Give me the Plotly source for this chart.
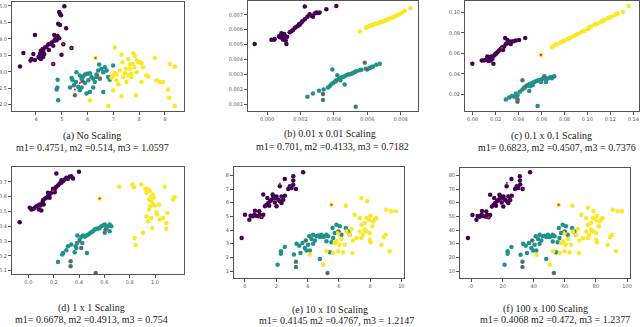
import plotly.graph_objects as go
from plotly.subplots import make_subplots

# ---- (a) No Scaling ----
a_purple_x = [5.10, 4.90, 4.93, 4.97, 4.86, 4.93, 5.17, 3.96, 4.71, 4.84, 4.76, 4.90, 4.80, 4.71, 4.61, 4.54, 4.48, 4.41, 4.35, 4.26, 4.19,
              4.28, 4.15, 4.22, 4.28, 3.51, 3.90, 3.83, 3.79, 3.96, 4.13, 4.19, 4.32, 4.50, 4.67, 5.06, 5.38, 4.99, 4.67, 3.38, 4.10, 4.25]
a_purple_y = [4.99, 4.82, 4.76, 4.72, 4.46, 4.42, 4.32, 4.12, 4.12, 4.09, 4.02, 4.02, 3.96, 3.94, 3.89, 3.84, 3.84, 3.76, 3.74, 3.69, 3.64,
              3.64, 3.54, 3.49, 3.46, 3.57, 3.54, 3.39, 3.34, 3.36, 3.42, 3.39, 3.54, 3.66, 3.79, 3.84, 3.72, 3.52, 3.24, 3.16, 3.45, 3.44]
a_teal_x = [4.84, 4.83, 4.80, 4.86, 5.38, 5.57, 5.70, 5.77, 5.83, 5.90, 5.99, 6.09, 6.15, 6.22, 6.35, 6.41, 6.45, 6.54, 6.61, 6.67, 6.74, 6.80,
            6.99, 7.06, 6.86, 6.61, 6.28, 6.22, 6.09, 5.96, 5.70, 5.64, 5.47, 5.32, 5.51, 5.77, 5.90, 6.03, 5.55, 5.81, 6.48, 6.35, 5.42]
a_teal_y = [2.76, 2.52, 2.46, 2.14, 2.81, 2.99, 2.89, 2.79, 2.86, 2.92, 2.94, 2.96, 2.84, 2.79, 2.92, 3.04, 3.22, 3.09, 2.99, 3.14, 3.04, 2.84,
            3.19, 2.94, 2.76, 2.39, 2.69, 2.52, 2.39, 2.34, 2.44, 2.54, 2.59, 2.52, 2.29, 2.52, 2.66, 2.74, 2.69, 2.71, 2.79, 2.84, 2.74]
a_yellow_x = [6.31, 7.06, 7.32, 7.35, 7.48, 7.45, 7.57, 7.64, 7.70, 7.74, 7.83, 7.90, 7.77, 7.64, 7.81, 7.96, 8.03, 8.09, 7.06, 6.99, 7.12, 7.19,
              6.99, 7.38, 7.51, 7.57, 7.70, 7.25, 7.87, 8.09, 8.28, 8.35, 8.61, 8.67, 8.80, 8.93, 9.12, 9.19, 9.38, 9.16, 9.38, 6.09,
              6.80, 7.32, 7.90, 8.15, 6.93, 7.12]
a_yellow_y = [3.42, 3.74, 3.52, 3.29, 3.09, 2.96, 3.39, 3.09, 2.94, 3.24, 3.49, 3.36, 3.56, 3.22, 3.14, 3.29, 3.29, 3.26, 2.96, 2.89, 2.74, 2.62,
              2.44, 2.84, 2.69, 2.89, 2.84, 3.04, 2.29, 2.69, 2.89, 2.86, 3.42, 2.74, 2.69, 2.69, 2.46, 3.24, 3.16, 2.21, 1.96, 2.14,
              1.96, 2.26, 2.99, 3.14, 2.82, 2.92]
a_red_x = [5.06, 5.38, 4.67, 5.70, 5.81, 5.51, 5.51, 6.41, 6.48, 6.31]
a_red_y = [3.84, 3.72, 3.24, 2.66, 2.72, 2.46, 2.31, 2.89, 2.82, 3.42]

# ---- (b) 0.01 x 0.01 Scaling ----
b_purple_x = [-0.00074, 0.00026, 0.00042, 0.00046, 0.00076, 0.00086, 0.00096, 0.00102, 0.00090, 0.00106, 0.00096, 0.00112, 0.00116,
              0.00136, 0.00156, 0.00166, 0.00176, 0.00186, 0.00196, 0.00206, 0.00212, 0.00226, 0.00242, 0.00255, 0.00265, 0.00275,
              0.00295, 0.00305, 0.00315, 0.00355, 0.00415, 0.00226, 0.00120, 0.00146, 0.00192, 0.00285, 0.00086, 0.00072, 0.00106,
              0.00095, 0.00100, 0.00085]
b_purple_y = [0.00504, 0.00533, 0.00533, 0.00538, 0.00549, 0.00560, 0.00564, 0.00571, 0.00544, 0.00544, 0.00533, 0.00527, 0.00504,
              0.00582, 0.00598, 0.00611, 0.00620, 0.00627, 0.00633, 0.00649, 0.00656, 0.00671, 0.00687, 0.00704, 0.00693, 0.00687,
              0.00716, 0.00713, 0.00716, 0.00738, 0.00760, 0.00756, 0.00553, 0.00589, 0.00638, 0.00709, 0.00576, 0.00556, 0.00560,
              0.00550, 0.00540, 0.00555]
b_teal_x = [0.00242, 0.00275, 0.00311, 0.00339, 0.00335, 0.00335, 0.00391, 0.00375, 0.00385, 0.00395, 0.00405, 0.00415, 0.00421,
            0.00431, 0.00445, 0.00455, 0.00465, 0.00465, 0.00475, 0.00485, 0.00495, 0.00505, 0.00515, 0.00525, 0.00535, 0.00555,
            0.00585, 0.00591, 0.00599, 0.00615, 0.00625, 0.00635, 0.00655, 0.00675, 0.00531, 0.00365, 0.00411, 0.00439, 0.00565, 0.00605]
b_teal_y = [0.00149, 0.00171, 0.00189, 0.00198, 0.00167, 0.00127, 0.00333, 0.00220, 0.00233, 0.00242, 0.00249, 0.00260, 0.00293,
            0.00271, 0.00278, 0.00282, 0.00287, 0.00231, 0.00293, 0.00298, 0.00300, 0.00304, 0.00309, 0.00316, 0.00320, 0.00327,
            0.00378, 0.00338, 0.00333, 0.00342, 0.00349, 0.00353, 0.00364, 0.00371, 0.00082, 0.00211, 0.00253, 0.00260, 0.00331, 0.00338]
b_yellow_x = [0.00555, 0.00591, 0.00605, 0.00615, 0.00631, 0.00645, 0.00659, 0.00675, 0.00691, 0.00705, 0.00719, 0.00735, 0.00751,
              0.00764, 0.00778, 0.00794, 0.00810, 0.00824, 0.00858, 0.00599, 0.00625, 0.00651, 0.00681, 0.00711, 0.00745, 0.00785]
b_yellow_y = [0.00587, 0.00611, 0.00620, 0.00627, 0.00633, 0.00638, 0.00642, 0.00647, 0.00653, 0.00660, 0.00667, 0.00676, 0.00682,
              0.00689, 0.00696, 0.00704, 0.00716, 0.00727, 0.00744, 0.00616, 0.00629, 0.00640, 0.00651, 0.00664, 0.00678, 0.00700]
b_red_x = [0.00335, 0.00335, 0.00585, 0.00415, 0.00531, 0.00599]
b_red_y = [0.00167, 0.00127, 0.00378, 0.00260, 0.00082, 0.00333]

# ---- (c) 0.1 x 0.1 Scaling ----
c_purple_x = [-0.0003, 0.0079, 0.0099, 0.0114, 0.0128, 0.0143, 0.0157, 0.0137, 0.0157, 0.0172, 0.0181, 0.0187, 0.0201, 0.0216, 0.0230,
              0.0245, 0.0259, 0.0274, 0.0283, 0.0289, 0.0303, 0.0318, 0.0332, 0.0353, 0.0376, 0.0405, 0.0458, 0.0303, 0.0265, 0.0207,
              0.0166, 0.0128, 0.0195, 0.0254, 0.0332]
c_purple_y = [0.0498, 0.0530, 0.0530, 0.0537, 0.0547, 0.0556, 0.0563, 0.0524, 0.0530, 0.0547, 0.0498, 0.0579, 0.0595, 0.0611, 0.0628,
              0.0644, 0.0660, 0.0666, 0.0751, 0.0692, 0.0699, 0.0708, 0.0715, 0.0718, 0.0725, 0.0731, 0.0751, 0.0731, 0.0634, 0.0602,
              0.0569, 0.0569, 0.0589, 0.0653, 0.0692]
c_teal_x = [0.0289, 0.0318, 0.0341, 0.0362, 0.0376, 0.0391, 0.0434, 0.0411, 0.0434, 0.0449, 0.0464, 0.0478, 0.0493, 0.0507, 0.0522,
            0.0536, 0.0551, 0.0566, 0.0580, 0.0595, 0.0609, 0.0624, 0.0638, 0.0653, 0.0668, 0.0682, 0.0697, 0.0711, 0.0624, 0.0391,
            0.0391, 0.0493, 0.0566, 0.0455, 0.0499, 0.0595, 0.0638, 0.0691, 0.0376, 0.0522]
c_teal_y = [0.0148, 0.0168, 0.0181, 0.0174, 0.0184, 0.0190, 0.0336, 0.0223, 0.0245, 0.0265, 0.0278, 0.0287, 0.0297, 0.0304, 0.0310,
            0.0320, 0.0326, 0.0333, 0.0336, 0.0342, 0.0352, 0.0368, 0.0342, 0.0352, 0.0362, 0.0368, 0.0368, 0.0375, 0.0375, 0.0151,
            0.0125, 0.0232, 0.0083, 0.0262, 0.0278, 0.0320, 0.0320, 0.0355, 0.0207, 0.0287]
c_yellow_x = [0.0595, 0.0691, 0.0711, 0.0741, 0.0770, 0.0799, 0.0828, 0.0857, 0.0886, 0.0915, 0.0945, 0.0974, 0.1003, 0.1032, 0.1061,
              0.1090, 0.1120, 0.1149, 0.1178, 0.1207, 0.1236, 0.1265, 0.1309, 0.1359, 0.0726, 0.0784, 0.0843, 0.0901, 0.0959, 0.1017,
              0.1076, 0.1134, 0.1192, 0.1251]
c_yellow_y = [0.0585, 0.0660, 0.0676, 0.0692, 0.0708, 0.0725, 0.0741, 0.0757, 0.0773, 0.0789, 0.0806, 0.0822, 0.0838, 0.0861, 0.0880,
              0.0893, 0.0909, 0.0926, 0.0945, 0.0958, 0.0974, 0.0990, 0.1006, 0.1065, 0.0686, 0.0718, 0.0747, 0.0783, 0.0815, 0.0854,
              0.0887, 0.0919, 0.0951, 0.0984]
c_red_x = [0.0595, 0.0391, 0.0391, 0.0464, 0.0624, 0.0434, 0.0254]
c_red_y = [0.0585, 0.0151, 0.0125, 0.0278, 0.0368, 0.0336, 0.0653]

# ---- (d) 1 x 1 Scaling ----
d_purple_x = [-0.068, 0.011, 0.024, 0.037, 0.050, 0.063, 0.076, 0.089, 0.103, 0.095, 0.111, 0.116, 0.129, 0.142, 0.155, 0.168, 0.182,
              0.195, 0.208, 0.221, 0.234, 0.247, 0.261, 0.274, 0.287, 0.300, 0.313, 0.326, 0.339, 0.353, 0.400, 0.221, 0.168, 0.121,
              0.084, 0.208, 0.261, 0.195, 0.155]
d_purple_y = [0.427, 0.524, 0.513, 0.517, 0.524, 0.535, 0.540, 0.547, 0.506, 0.540, 0.558, 0.576, 0.585, 0.592, 0.603, 0.614, 0.626,
              0.637, 0.648, 0.666, 0.675, 0.689, 0.693, 0.705, 0.716, 0.727, 0.720, 0.734, 0.738, 0.723, 0.768, 0.756, 0.592, 0.547,
              0.513, 0.630, 0.711, 0.653, 0.626]
d_teal_x = [0.234, 0.268, 0.274, 0.300, 0.313, 0.339, 0.374, 0.384, 0.387, 0.405, 0.418, 0.432, 0.445, 0.458, 0.471, 0.484, 0.497,
            0.511, 0.524, 0.537, 0.550, 0.563, 0.576, 0.589, 0.603, 0.611, 0.616, 0.629, 0.642, 0.655, 0.366, 0.379, 0.463, 0.334,
            0.334, 0.532, 0.418, 0.426, 0.603, 0.642]
d_teal_y = [0.158, 0.208, 0.219, 0.237, 0.264, 0.276, 0.264, 0.287, 0.337, 0.309, 0.328, 0.337, 0.328, 0.337, 0.343, 0.350, 0.359,
            0.366, 0.377, 0.382, 0.382, 0.388, 0.400, 0.404, 0.411, 0.377, 0.388, 0.400, 0.411, 0.400, 0.224, 0.253, 0.219, 0.129,
            0.163, 0.084, 0.253, 0.287, 0.355, 0.366]
d_yellow_x = [0.563, 0.716, 0.821, 0.834, 0.892, 0.924, 0.932, 0.945, 0.958, 0.971, 0.984, 0.953, 0.971, 0.984, 0.997, 0.953, 0.932,
              0.945, 0.971, 0.979, 1.016, 1.032, 1.037, 1.063, 1.076, 1.089, 1.089, 1.097, 1.155, 1.142, 0.905, 0.839, 0.847, 1.011,
              0.989, 0.963]
d_yellow_y = [0.587, 0.666, 0.682, 0.664, 0.682, 0.653, 0.626, 0.648, 0.637, 0.603, 0.614, 0.580, 0.569, 0.547, 0.540, 0.513, 0.467,
              0.434, 0.456, 0.388, 0.479, 0.547, 0.445, 0.456, 0.666, 0.422, 0.382, 0.490, 0.596, 0.580, 0.355, 0.321, 0.273, 0.495,
              0.592, 0.535]
d_red_x = [0.563, 0.195, 0.418, 0.405, 0.334, 0.334, 0.532, 0.603]
d_red_y = [0.587, 0.637, 0.253, 0.295, 0.163, 0.129, 0.084, 0.377]

# ---- (e) 10 x 10 Scaling ----
e_purple_x = [-0.21, 0.00, 0.28, 0.36, 0.49, 0.60, 0.70, 0.85, 0.96, 1.06, 0.91, 1.17, 0.64, 1.28, 1.38, 1.49, 1.60, 1.70, 1.81, 1.91,
              2.02, 2.13, 2.23, 2.34, 2.45, 2.55, 2.55, 2.23, 2.77, 2.87, 2.98, 3.09, 3.09, 3.09, 3.26, 3.72, 1.17, 1.55, 1.91, 2.34,
              2.02, 1.77, 1.43]
e_purple_y = [3.41, 5.12, 4.76, 5.05, 5.00, 5.12, 5.05, 5.00, 5.12, 4.95, 5.37, 5.12, 5.41, 5.73, 5.85, 5.98, 6.10, 6.22, 6.46, 6.34,
              6.46, 6.22, 6.10, 5.98, 6.22, 6.51, 7.73, 7.20, 7.00, 7.20, 7.07, 7.32, 7.63, 7.93, 7.00, 8.22, 6.59, 5.78, 6.02, 6.46,
              5.73, 6.59, 6.34]
e_teal_x = [2.09, 2.30, 2.30, 2.55, 3.13, 3.26, 3.26, 3.30, 3.47, 3.55, 3.68, 3.83, 3.89, 3.94, 4.04, 4.11, 4.15, 4.26, 4.36, 4.47,
            4.57, 4.68, 4.79, 4.79, 4.89, 5.00, 5.11, 5.21, 5.28, 5.32, 5.43, 5.53, 5.60, 5.64, 5.74, 5.85, 5.96, 6.06, 6.17, 6.45,
            6.60, 6.70, 5.21, 4.36]
e_teal_y = [1.46, 2.44, 2.27, 2.76, 2.20, 1.68, 1.29, 3.00, 2.85, 2.32, 3.05, 2.68, 3.24, 2.51, 2.93, 3.54, 2.51, 3.34, 3.66, 3.24,
            3.54, 3.59, 3.49, 1.88, 3.66, 3.49, 3.54, 3.66, 0.85, 3.54, 2.37, 3.10, 4.15, 3.41, 3.78, 4.39, 3.90, 4.27, 3.66, 4.15,
            3.90, 3.66, 3.17, 3.00]
e_yellow_x = [5.53, 6.45, 7.45, 7.81, 7.02, 7.34, 7.45, 7.66, 7.77, 7.94, 8.02, 8.15, 8.19, 8.30, 8.40, 7.66, 7.77, 7.55, 7.34, 7.13,
              6.81, 6.70, 6.49, 5.96, 5.85, 6.02, 6.17, 5.74, 5.96, 5.64, 6.28, 6.87, 5.21, 4.15, 5.00, 7.98, 8.02, 9.04, 9.36, 9.64,
              9.00, 8.87, 8.72, 9.26, 6.38, 6.91, 7.45, 7.98]
e_yellow_y = [5.85, 5.78, 6.34, 6.10, 5.12, 4.88, 4.39, 4.51, 4.88, 4.76, 5.05, 4.27, 4.63, 4.76, 4.88, 4.02, 3.90, 3.66, 3.90, 3.41,
              4.07, 3.66, 3.90, 3.78, 3.17, 2.93, 3.34, 3.05, 2.44, 2.32, 2.37, 2.32, 2.44, 2.20, 1.46, 3.29, 3.10, 5.49, 5.37, 5.37,
              3.66, 3.49, 2.93, 2.44, 2.93, 3.24, 3.41, 3.78]
e_red_x = [5.53, 1.06, 2.23, 3.26, 3.26, 5.28, 3.89, 6.06]
e_red_y = [5.85, 4.95, 7.40, 1.68, 1.29, 0.85, 3.24, 3.90]

# ---- (f) 100 x 100 Scaling ----
f_purple_x = [-2.4, 0.5, 3.1, 3.8, 5.2, 6.3, 7.2, 8.8, 9.9, 10.8, 9.4, 11.9, 6.7, 13.0, 14.1, 15.1, 16.3, 17.2, 18.4, 19.3, 20.5, 21.5,
              22.6, 23.6, 24.8, 25.8, 25.6, 22.5, 27.9, 29.0, 30.0, 31.2, 31.1, 31.0, 32.8, 37.6, 11.9, 15.7, 19.3, 23.6, 20.4, 17.9, 14.5]
f_purple_y = [34.1, 51.0, 47.5, 50.3, 49.8, 51.1, 50.4, 49.9, 51.1, 49.3, 53.6, 51.0, 54.0, 57.2, 58.4, 59.7, 61.0, 62.1, 64.5, 63.3,
              64.6, 62.1, 61.0, 59.8, 62.0, 65.1, 77.4, 72.0, 70.0, 72.0, 70.8, 73.3, 76.3, 79.4, 70.1, 82.3, 65.9, 57.8, 60.2, 64.6,
              57.3, 65.9, 63.4]
f_teal_x = [21.2, 23.2, 23.2, 25.6, 31.5, 32.7, 32.7, 33.1, 34.8, 35.6, 36.9, 38.4, 39.0, 39.5, 40.5, 41.2, 41.6, 42.7, 43.7, 44.8,
            45.8, 46.9, 48.0, 48.0, 49.0, 50.1, 51.2, 52.2, 52.9, 53.3, 54.4, 55.4, 56.1, 56.5, 57.5, 58.6, 59.7, 60.7, 61.8, 64.6,
            66.1, 67.1, 52.2, 43.7]
f_teal_y = [14.6, 24.4, 22.7, 27.6, 22.0, 16.8, 12.9, 30.0, 28.5, 23.2, 30.5, 26.8, 32.4, 25.1, 29.3, 35.4, 25.1, 33.4, 36.6, 32.4,
            35.4, 35.9, 34.9, 18.8, 36.6, 34.9, 35.4, 36.6, 8.5, 35.4, 23.7, 31.0, 41.5, 34.1, 37.8, 43.9, 39.0, 42.7, 36.6, 41.5,
            39.0, 36.6, 31.7, 30.0]
f_yellow_x = [56.0, 64.8, 74.8, 78.4, 70.5, 73.7, 74.8, 76.9, 78.0, 79.7, 80.5, 81.8, 82.2, 83.3, 84.3, 76.9, 78.0, 75.8, 73.7, 71.6,
              68.4, 67.3, 65.2, 59.9, 58.8, 60.5, 62.0, 57.7, 59.9, 56.7, 63.1, 69.0, 52.4, 41.8, 50.3, 80.1, 80.5, 90.7, 93.9, 96.7,
              90.3, 89.0, 87.5, 92.9, 64.1, 69.4, 74.8, 80.1]
f_yellow_y = [58.5, 57.8, 56.3, 54.0, 51.2, 48.8, 43.9, 45.1, 48.8, 47.6, 50.5, 42.7, 46.3, 47.6, 48.8, 40.2, 39.0, 36.6, 39.0, 34.1,
              40.7, 36.6, 39.0, 37.8, 31.7, 29.3, 33.4, 30.5, 24.4, 23.2, 23.7, 23.2, 24.4, 22.0, 14.6, 32.9, 31.0, 54.9, 53.7, 53.7,
              36.6, 34.9, 29.3, 24.4, 29.3, 32.4, 34.1, 37.8]
f_red_x = [56.0, 10.8, 22.6, 32.7, 32.7, 52.9, 39.0, 60.7]
f_red_y = [58.5, 49.3, 74.5, 16.8, 12.9, 8.5, 32.4, 39.0]

captions = ["(a) No Scaling", "(b) 0.01 x 0.01 Scaling", "(c) 0.1 x 0.1 Scaling",
            "(d) 1 x 1 Scaling", "(e) 10 x 10 Scaling", "(f) 100 x 100 Scaling"]
metrics = ["m1= 0.4751, m2 =0.514, m3 = 1.0597", "m1= 0.701, m2 =0.4133, m3 = 0.7182",
           "m1= 0.6823, m2 =0.4507, m3 = 0.7376", "m1= 0.6678, m2 =0.4913, m3 = 0.754",
           "m1= 0.4145 m2 =0.4767, m3 = 1.2147", "m1= 0.4068 m2 =0.472, m3 = 1.2377"]

PURPLE, TEAL, YELLOW, RED = "#440154", "#21918c", "#fde725", "#e3261b"
W, H = 640, 327

panels = [
    (a_purple_x, a_purple_y, a_teal_x, a_teal_y, a_yellow_x, a_yellow_y, a_red_x, a_red_y),
    (b_purple_x, b_purple_y, b_teal_x, b_teal_y, b_yellow_x, b_yellow_y, b_red_x, b_red_y),
    (c_purple_x, c_purple_y, c_teal_x, c_teal_y, c_yellow_x, c_yellow_y, c_red_x, c_red_y),
    (d_purple_x, d_purple_y, d_teal_x, d_teal_y, d_yellow_x, d_yellow_y, d_red_x, d_red_y),
    (e_purple_x, e_purple_y, e_teal_x, e_teal_y, e_yellow_x, e_yellow_y, e_red_x, e_red_y),
    (f_purple_x, f_purple_y, f_teal_x, f_teal_y, f_yellow_x, f_yellow_y, f_red_x, f_red_y),
]

# pixel boxes of each plot frame (left, right, top, bottom)
boxes = [(12, 184, 2, 111), (248, 418, 1, 111), (465, 639, 1, 111),
         (12, 184, 167, 274), (234, 404, 167, 278), (460, 630, 168, 278)]
xranges = [[3.07, 9.74], [-0.00114, 0.00904], [-0.0067, 0.145], [-0.129, 1.229], [-0.70, 10.17], [-7.5, 101.9]]
yranges = [[1.81, 5.12], [0.00053, 0.00793], [0.0035, 0.1113], [0.077, 0.80], [0.49, 8.61], [4.9, 85.4]]
xticks = [[4, 5, 6, 7, 8, 9], [0, 0.002, 0.004, 0.006, 0.008], [0, 0.02, 0.04, 0.06, 0.08, 0.10, 0.12, 0.14],
          [0, 0.2, 0.4, 0.6, 0.8, 1.0], [0, 2, 4, 6, 8, 10], [0, 20, 40, 60, 80, 100]]
yticks = [[2.0, 2.5, 3.0, 3.5, 4.0, 4.5, 5.0], [0.001, 0.002, 0.003, 0.004, 0.005, 0.006, 0.007],
          [0.02, 0.04, 0.06, 0.08, 0.10], [0.1, 0.2, 0.3, 0.4, 0.5, 0.6, 0.7], [1, 2, 3, 4, 5, 6, 7, 8],
          [10, 20, 30, 40, 50, 60, 70, 80]]
xfmt = ["d", ".3f", ".2f", ".1f", "d", "d"]
yfmt = [".1f", ".3f", ".2f", ".1f", "d", "d"]
cap_pos = [(92, 136, 92, 147), (330, 134, 332, 146), (551, 136, 557, 147),
           (91, 308, 91, 319), (330, 310, 336, 320), (545, 309, 555, 319)]

fig = make_subplots(rows=2, cols=3)

for i, (px, py, tx, ty, yx, yy, rx, ry) in enumerate(panels):
    r, c = i // 3 + 1, i % 3 + 1
    for xs, ys, col in ((px, py, PURPLE), (tx, ty, TEAL), (yx, yy, YELLOW)):
        fig.add_trace(go.Scatter(x=xs, y=ys, mode="markers", showlegend=False,
                                 marker=dict(color=col, size=4.5, line=dict(width=0))), row=r, col=c)
    fig.add_trace(go.Scatter(x=rx, y=ry, mode="markers", showlegend=False,
                             marker=dict(color=RED, size=2.2, line=dict(width=0))), row=r, col=c)

    l, rt, t, b = boxes[i]
    axis_style = dict(showgrid=False, zeroline=False, showline=True, mirror=True, linecolor="#555", linewidth=1,
                      ticks="outside", ticklen=3, tickwidth=1, tickcolor="#555", automargin=False,
                      tickfont=dict(family="DejaVu Sans", size=5, color="#555"))
    fig.update_xaxes(domain=[l / W, rt / W], range=xranges[i], tickvals=xticks[i], tickformat=xfmt[i],
                     row=r, col=c, **axis_style)
    fig.update_yaxes(domain=[1 - b / H, 1 - t / H], range=yranges[i], tickvals=yticks[i], tickformat=yfmt[i],
                     row=r, col=c, **axis_style)

    cx1, cy1, cx2, cy2 = cap_pos[i]
    fig.add_annotation(x=cx1 / W, y=1 - cy1 / H, xref="paper", yref="paper", text=captions[i], showarrow=False,
                       font=dict(family="Liberation Serif", size=10, color="#222"), xanchor="center", yanchor="middle")
    fig.add_annotation(x=cx2 / W, y=1 - cy2 / H, xref="paper", yref="paper", text=metrics[i], showarrow=False,
                       font=dict(family="Liberation Serif", size=10, color="#222"), xanchor="center", yanchor="middle")

fig.update_layout(width=W, height=H, margin=dict(l=0, r=0, t=0, b=0),
                  paper_bgcolor="white", plot_bgcolor="white")

# the page body has a default margin; remove it so the figure fills the window
fig.write_html("out.html", config={"displayModeBar": False},
               post_script="document.body.style.margin='0';document.body.style.overflow='hidden';")
